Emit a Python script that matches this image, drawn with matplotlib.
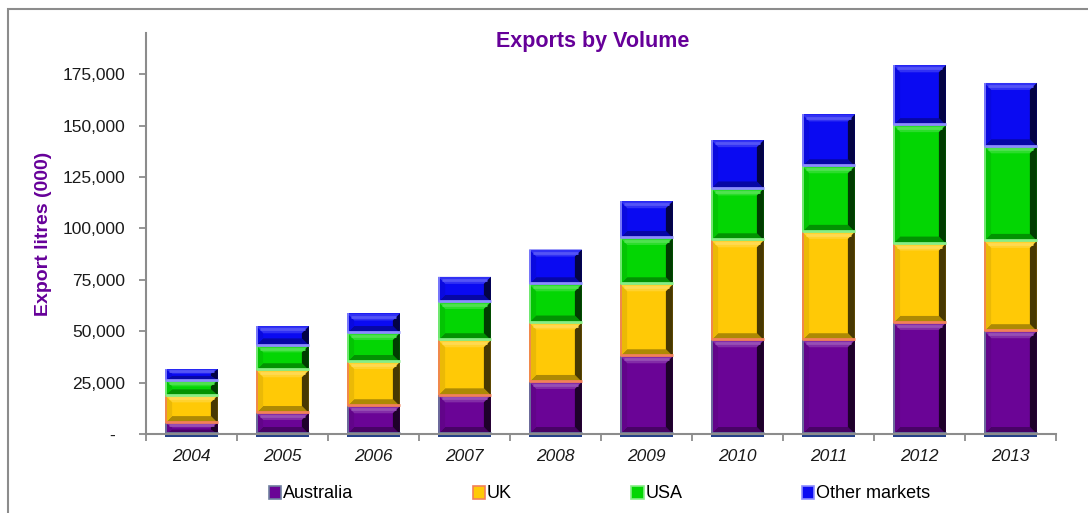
import matplotlib
matplotlib.use("Agg")
import matplotlib.pyplot as plt
from matplotlib.patches import Polygon, Rectangle, Patch
from matplotlib.colors import to_rgb
import numpy as np

plt.rcParams['font.family'] = ['Liberation Sans', 'DejaVu Sans']

years = ["2004", "2005", "2006", "2007", "2008", "2009", "2010", "2011", "2012", "2013"]
australia = [5300, 10200, 13500, 18800, 25300, 37800, 45600, 45600, 54000, 50000]
uk = [13500, 20800, 21500, 26800, 28900, 35000, 48600, 52700, 38600, 43900]
usa = [7300, 12100, 14100, 18600, 18600, 22500, 25200, 31900, 57600, 46000]
other = [5400, 9300, 9500, 12200, 16900, 17900, 23500, 25200, 29100, 30800]

series = [
    ("Australia", australia, "#6a0496", "#6f7f9f"),
    ("UK", uk, "#ffc906", "#f2805a"),
    ("USA", usa, "#03d603", "#86ee86"),
    ("Other markets", other, "#0a0af2", "#8c8cff"),
]
ytick_vals = [0, 25000, 50000, 75000, 100000, 125000, 150000, 175000]
ytick_labels = ["-  ", "25,000", "50,000", "75,000", "100,000", "125,000", "150,000", "175,000"]

W, H = 1088, 513
fig = plt.figure(figsize=(W / 100, H / 100), dpi=100)
fig.patch.set_facecolor("white")

# outer chart frame
fig.add_artist(Rectangle((8 / W, -0.05), 1.2, 1 - 9 / H + 0.05, transform=fig.transFigure,
                         fill=False, edgecolor="#8c8c8c", linewidth=1.5))

ax_left, ax_right, ax_bottom, ax_top = 146, 1056, 434, 33
ax = fig.add_axes([ax_left / W, (H - ax_bottom) / H, (ax_right - ax_left) / W, (ax_bottom - ax_top) / H])
ax.set_xlim(-0.5, len(years) - 0.5)
ax.set_ylim(0, 195000)

x = np.arange(len(years))
bar_w = 0.58

# data units per pixel, for the bevel geometry
dxpp = (len(years)) / (ax_right - ax_left)
dypp = 195000 / (ax_bottom - ax_top)


def mix(c, other_c, t):
    c = np.array(to_rgb(c))
    o = np.array(to_rgb(other_c))
    return tuple(c * (1 - t) + o * t)


def bevel(x0, y0, w, h, color, edge):
    x1, y1 = x0 + w, y0 + h
    b = 7
    bx = b * dxpp
    by = min(b * dypp, h * 0.4)
    top = mix(color, "white", 0.16)
    bottom = mix(color, "black", 0.32)
    right = mix(color, "black", 0.72)
    left = mix(color, "black", 0.08)
    polys = [
        ([(x0, y1), (x1, y1), (x1 - bx, y1 - by), (x0 + bx, y1 - by)], top),
        ([(x0, y0), (x1, y0), (x1 - bx, y0 + by), (x0 + bx, y0 + by)], bottom),
        ([(x0, y0), (x0 + bx, y0 + by), (x0 + bx, y1 - by), (x0, y1)], left),
        ([(x1, y0), (x1 - bx, y0 + by), (x1 - bx, y1 - by), (x1, y1)], right),
    ]
    for pts, fc in polys:
        ax.add_patch(Polygon(pts, closed=True, facecolor=fc, edgecolor="none", zorder=3))
    # soft highlight just inside the top edge
    ax.plot([x0 + 0.6 * bx, x1 - 0.6 * bx], [y1 - 0.45 * by, y1 - 0.45 * by],
            color=mix(color, "white", 0.3), lw=2.0, zorder=3.5, solid_capstyle="butt")
    ax.plot([x0, x1], [y0 + 0.8 * dypp, y0 + 0.8 * dypp], color=edge, lw=2.0, zorder=4,
            solid_capstyle="butt")
    ax.plot([x0 + 0.5 * dxpp, x0 + 0.5 * dxpp], [y0, y1], color=edge, lw=1.2, zorder=4,
            solid_capstyle="butt")


base = np.zeros(len(years))
for name, vals, color, edge in series:
    vals = np.array(vals, dtype=float)
    bars = ax.bar(x, vals, bar_w, bottom=base, color=color, edgecolor="none", zorder=2)
    for rect in bars:
        bevel(rect.get_x(), rect.get_y(), rect.get_width(), rect.get_height(), color, edge)
    base = base + vals

# dark base strip just under each column
for xi in x:
    ax.add_patch(Rectangle((xi - bar_w / 2, -3 * dypp), bar_w, 3 * dypp, facecolor="#223f88",
                           edgecolor="none", clip_on=False, zorder=1))

for side in ("top", "right"):
    ax.spines[side].set_visible(False)
for side in ("left", "bottom"):
    ax.spines[side].set_color("#8c8c8c")
    ax.spines[side].set_linewidth(1.5)
    ax.spines[side].set_zorder(5)

ax.set_yticks(ytick_vals)
ax.set_yticklabels(ytick_labels, fontsize=12.5, color="#1a1a1a")
ax.tick_params(axis="y", direction="out", length=5, width=1.3, color="#8c8c8c", pad=10)

ax.set_xticks(x)
ax.set_xticklabels(years, fontsize=12.5, style="italic", color="#1a1a1a")
ax.set_xticks(np.arange(-0.5, len(years), 1.0), minor=True)
ax.tick_params(axis="x", which="major", length=0, pad=11)
ax.tick_params(axis="x", which="minor", direction="out", length=5, width=1.3, color="#8c8c8c")

ax.set_ylabel("Export litres (000)", fontsize=14, fontweight="bold", color="#660099")
ax.yaxis.set_label_coords(-0.103, 0.5)

fig.text(593 / W, 1 - 41 / H, "Exports by Volume", ha="center", va="center",
         fontsize=15.5, fontweight="bold", color="#660099")

handles = [Patch(facecolor=c, edgecolor=e, linewidth=1.2, label=n) for n, _, c, e in series]
fig.legend(handles=handles, loc="center", bbox_to_anchor=(0.551, 1 - 494 / H), ncol=4,
           frameon=False, fontsize=13, handlelength=0.7, handleheight=0.7,
           handletextpad=0.1, columnspacing=6.6)

fig.savefig("out.png", dpi=100, facecolor="white")
